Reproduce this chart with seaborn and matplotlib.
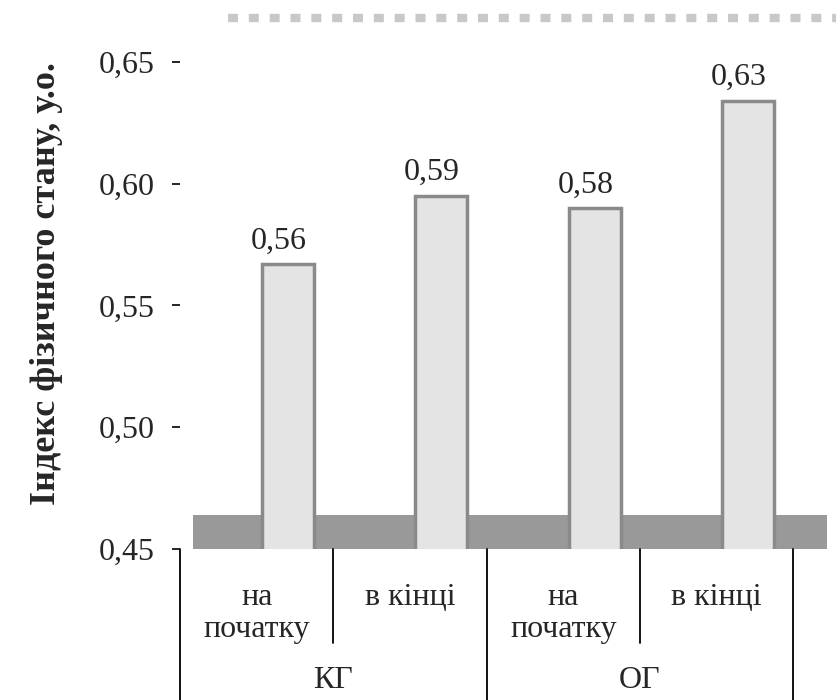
import matplotlib
matplotlib.use("Agg")
import matplotlib.pyplot as plt
import seaborn as sns
import pandas as pd
import matplotlib.transforms as mtrans

# ---- data ----
bar_keys = ["КГ на початку", "КГ в кінці", "ОГ на початку", "ОГ в кінці"]
values = [0.567, 0.595, 0.590, 0.634]
value_labels = ["0,56", "0,59", "0,58", "0,63"]
sub_labels = ["на\nпочатку", "в кінці", "на\nпочатку", "в кінці"]
group_labels = ["КГ", "ОГ"]
y_ticks = [0.45, 0.50, 0.55, 0.60, 0.65]
y_ticklabels = ["0,45", "0,50", "0,55", "0,60", "0,65"]
y_title = "Індекс фізичного стану, у.о."

sns.set_theme(style="white")
plt.rcParams["font.family"] = ["Liberation Serif", "DejaVu Serif"]

W, H = 837, 700
fig = plt.figure(figsize=(W / 100, H / 100), dpi=100)
ax_left, ax_right, ax_top, ax_bot = 180, 837, 18, 549
ax = fig.add_axes([ax_left / W, (H - ax_bot) / H, (ax_right - ax_left) / W, (ax_bot - ax_top) / H])

df = pd.DataFrame({"key": bar_keys, "value": values})
sns.barplot(data=df, x="key", y="value", order=bar_keys, ax=ax, width=0.34,
            color="#e4e4e4", edgecolor="#8a8a8a", linewidth=2.5, saturation=1, zorder=3)

ax.set_ylim(0.45, 0.668)
ax.set_xlim(-0.705, 3.58)
ax.set_yticks(y_ticks)
ax.set_yticklabels(y_ticklabels, fontsize=23)
ax.set_xticks([])
ax.set_xlabel("")
ax.set_ylabel(y_title, fontsize=26, fontweight="bold", labelpad=26)
ax.tick_params(axis="y", direction="out", length=6, width=1.2, color="black", pad=12, left=True)
for s in ["top", "right", "left", "bottom"]:
    ax.spines[s].set_visible(False)

# floor of pseudo-3D chart
ax.axhspan(0.45, 0.464, xmin=0.02, xmax=0.985, color="#999999", zorder=1, lw=0)
# back-wall top dotted line
ax.plot([0.073, 1.0], [1.0, 1.0], transform=ax.transAxes, color="#c8c8c8",
        lw=6, linestyle=(0, (1.2, 1.3)), clip_on=False, solid_capstyle="butt")

# value labels
for i, (v, lab) in enumerate(zip(values, value_labels)):
    ax.text(i - 0.06, v + 0.0035, lab, ha="center", va="bottom", fontsize=23, zorder=5)

# category axis (two-level) drawn below
trans = mtrans.blended_transform_factory(ax.transData, fig.transFigure)
off = 0.705
def fy(py):
    return (H - py) / H
for i in range(len(bar_keys) + 1):
    xb = i - off
    bottom = 0 if i % 2 == 0 else 643
    ax.plot([xb, xb], [fy(549), fy(bottom) if bottom else 0], transform=trans,
            color="black", lw=1.3, clip_on=False)
for i, lab in enumerate(sub_labels):
    xc = i - off + 0.5
    ax.text(xc, fy(583), lab, transform=trans, ha="center", va="top", fontsize=23,
            linespacing=1.15)
for g, lab in enumerate(group_labels):
    xc = 2 * g - off + 1.0
    ax.text(xc, fy(680), lab, transform=trans, ha="center", va="center", fontsize=23)

fig.savefig("out.png", dpi=100)
